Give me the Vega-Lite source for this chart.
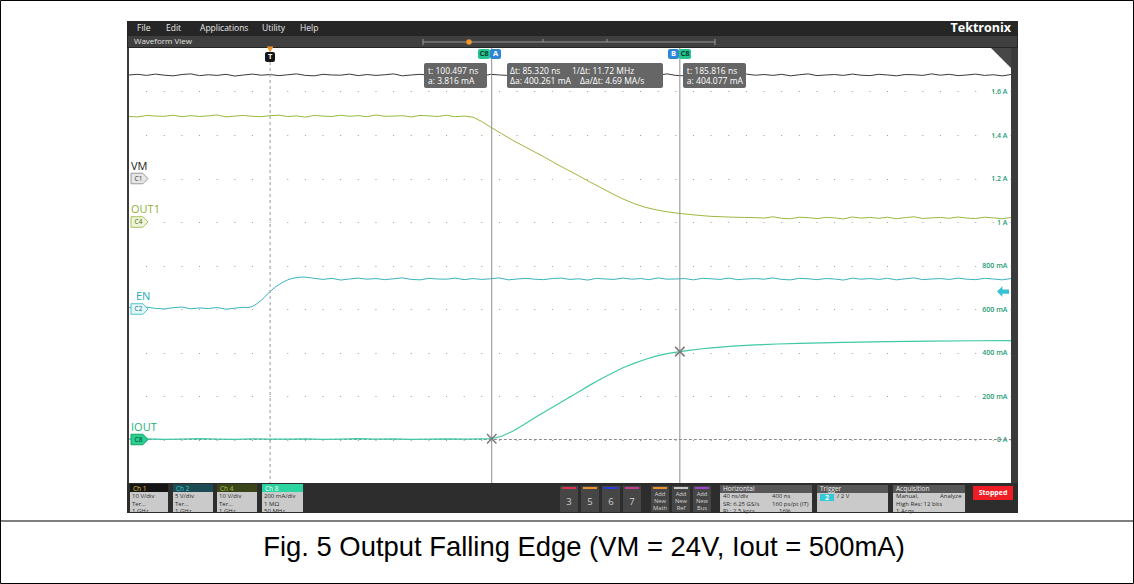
{
"$schema": "https://vega.github.io/schema/vega-lite/v6.json",
"width": 882, "height": 435,
"autosize": {"type": "none"},
"padding": {"left": 129, "top": 48, "right": 123, "bottom": 101},
"background": "#ffffff",
"config": {"view": {"stroke": null}, "font": "Open Sans", "axis": {"labelFont": "Open Sans"}},
"datasets": {
"zero": [{"t": 0, "v": 0, "a": 0}],
"trig": [{"t": 336, "v": 2, "a": 0}],
"tl": [{"t": 90.2, "v": 0, "a": 1.8276}],
"corner": [{"t": 336, "v": 0, "a": 1.8}],
"chrome": [
{"t":-64.91,"t2":339.18,"a":1.9241,"a2":1.8,"k":"menu"},
{"t":-64.45,"t2":338.72,"a":1.8552,"a2":1.8046,"k":"wv"},
{"t":-64.91,"t2":-64,"a":1.8,"a2":-0.2,"k":"edge"},
{"t":336,"t2":339.18,"a":1.8,"a2":-0.2,"k":"edge"},
{"t":-64.91,"t2":339.18,"a":-0.2,"a2":-0.3379,"k":"bar"},
{"t":-63.55,"t2":-46.31,"a":-0.2046,"a2":-0.2414,"k":"h1"},
{"t":-63.55,"t2":-46.31,"a":-0.2414,"a2":-0.3333,"k":"body"},
{"t":-44.05,"t2":-25.9,"a":-0.2046,"a2":-0.2414,"k":"h2"},
{"t":-44.05,"t2":-25.9,"a":-0.2414,"a2":-0.3333,"k":"body"},
{"t":-24.09,"t2":-5.95,"a":-0.2046,"a2":-0.2414,"k":"h4"},
{"t":-24.09,"t2":-5.95,"a":-0.2414,"a2":-0.3333,"k":"body"},
{"t":-3.68,"t2":14.91,"a":-0.2046,"a2":-0.2414,"k":"h8"},
{"t":-3.68,"t2":14.91,"a":-0.2414,"a2":-0.3333,"k":"body"},
{"t":131.46,"t2":139.62,"a":-0.2138,"a2":-0.3333,"k":"btn"},
{"t":140.99,"t2":149.15,"a":-0.2138,"a2":-0.3333,"k":"btn"},
{"t":150.51,"t2":158.68,"a":-0.2138,"a2":-0.3333,"k":"btn"},
{"t":160.04,"t2":168.2,"a":-0.2138,"a2":-0.3333,"k":"btn"},
{"t":172.74,"t2":180.9,"a":-0.2138,"a2":-0.3333,"k":"btn"},
{"t":182.27,"t2":190.43,"a":-0.2138,"a2":-0.3333,"k":"btn"},
{"t":191.79,"t2":199.95,"a":-0.2138,"a2":-0.3333,"k":"btn"},
{"t":132.37,"t2":138.71,"a":-0.2184,"a2":-0.2276,"k":"s3"},
{"t":141.9,"t2":148.25,"a":-0.2184,"a2":-0.2276,"k":"s5"},
{"t":151.42,"t2":157.77,"a":-0.2184,"a2":-0.2276,"k":"s6"},
{"t":160.95,"t2":167.3,"a":-0.2184,"a2":-0.2276,"k":"s7"},
{"t":173.64,"t2":179.99,"a":-0.2184,"a2":-0.2276,"k":"sM"},
{"t":183.17,"t2":189.52,"a":-0.2184,"a2":-0.2276,"k":"sR"},
{"t":192.69,"t2":199.04,"a":-0.2184,"a2":-0.2276,"k":"sB"},
{"t":204.04,"t2":245.76,"a":-0.2092,"a2":-0.246,"k":"hdr"},
{"t":248.03,"t2":280.23,"a":-0.2092,"a2":-0.246,"k":"hdr"},
{"t":282.49,"t2":315.15,"a":-0.2092,"a2":-0.246,"k":"hdr"},
{"t":204.04,"t2":245.76,"a":-0.246,"a2":-0.3333,"k":"body"},
{"t":248.03,"t2":280.23,"a":-0.246,"a2":-0.3333,"k":"body"},
{"t":282.49,"t2":315.15,"a":-0.246,"a2":-0.3333,"k":"body"},
{"t":318.78,"t2":336.91,"a":-0.2138,"a2":-0.2782,"k":"stop"},
{"t":249.39,"t2":255.74,"a":-0.2506,"a2":-0.2828,"k":"pill"}
],
"rules": [
{"t":69.33,"t2":201.76,"a":1.8276,"a2":1.8276},
{"t":69.33,"t2":69.33,"a":1.842,"a2":1.813},
{"t":201.76,"t2":201.76,"a":1.842,"a2":1.813},
{"t":123.76,"t2":123.76,"a":1.842,"a2":1.8276},
{"t":152.78,"t2":152.78,"a":1.842,"a2":1.8276}
],
"frame": [{"t":-122.28,"t2":391.56,"a":2.0184,"a2":-0.6621}],
"sep": [{"t":-122.5,"t2":391.8,"a":-0.3747}],
"ui": [
{"t":-60.37,"a":1.8897,"s":"File","g":"menu"},
{"t":-47.22,"a":1.8897,"s":"Edit","g":"menu"},
{"t":-31.8,"a":1.8897,"s":"Applications","g":"menu"},
{"t":-3.68,"a":1.8897,"s":"Utility","g":"menu"},
{"t":13.55,"a":1.8897,"s":"Help","g":"menu"},
{"t":336,"a":1.8897,"s":"Tektronix","g":"logo"},
{"t":-61.73,"a":1.8276,"s":"Waveform View","g":"wv"},
{"t":-62.19,"a":-0.2253,"s":"Ch 1","g":"h1"},
{"t":-42.68,"a":-0.2253,"s":"Ch 2","g":"h2"},
{"t":-22.73,"a":-0.2253,"s":"Ch 4","g":"h4"},
{"t":-2.32,"a":-0.2253,"s":"Ch 8","g":"h8"},
{"t":205.39,"a":-0.2276,"s":"Horizontal","g":"hw"},
{"t":249.38,"a":-0.2276,"s":"Trigger","g":"hw"},
{"t":283.85,"a":-0.2276,"s":"Acquisition","g":"hw"},
{"t":-62.64,"a":-0.2598,"s":"10 V/div","g":"body"},
{"t":-62.64,"a":-0.2943,"s":"Ter...","g":"body"},
{"t":-62.64,"a":-0.3287,"s":"1 GHz","g":"body"},
{"t":-43.14,"a":-0.2598,"s":"5 V/div","g":"body"},
{"t":-43.14,"a":-0.2943,"s":"Ter...","g":"body"},
{"t":-43.14,"a":-0.3287,"s":"1 GHz","g":"body"},
{"t":-23.18,"a":-0.2598,"s":"10 V/div","g":"body"},
{"t":-23.18,"a":-0.2943,"s":"Ter...","g":"body"},
{"t":-23.18,"a":-0.3287,"s":"1 GHz","g":"body"},
{"t":-2.78,"a":-0.2598,"s":"200 mA/div","g":"body"},
{"t":-2.78,"a":-0.2943,"s":"1 MΩ","g":"body"},
{"t":-2.78,"a":-0.3287,"s":"50 MHz","g":"body"},
{"t":205.39,"a":-0.2598,"s":"40 ns/div","g":"body"},
{"t":227.61,"a":-0.2598,"s":"400 ns","g":"body"},
{"t":205.39,"a":-0.2943,"s":"SR: 6.25 GS/s","g":"body"},
{"t":227.61,"a":-0.2943,"s":"160 ps/pt (IT)","g":"body"},
{"t":205.39,"a":-0.3287,"s":"RL: 2.5 kpts","g":"body"},
{"t":230.78,"a":-0.3287,"s":"16%","g":"body"},
{"t":257.09,"a":-0.2598,"s":"/  2 V","g":"body"},
{"t":283.85,"a":-0.2598,"s":"Manual,","g":"body"},
{"t":303.8,"a":-0.2598,"s":"Analyze","g":"body"},
{"t":283.85,"a":-0.2943,"s":"High Res: 12 bits","g":"body"},
{"t":283.85,"a":-0.3287,"s":"1 Acqs","g":"body"},
{"t":135.54,"a":-0.2874,"s":"3","g":"num"},
{"t":145.07,"a":-0.2874,"s":"5","g":"num"},
{"t":154.6,"a":-0.2874,"s":"6","g":"num"},
{"t":164.12,"a":-0.2874,"s":"7","g":"num"},
{"t":176.82,"a":-0.2483,"s":"Add","g":"add"},
{"t":176.82,"a":-0.2828,"s":"New","g":"add"},
{"t":176.82,"a":-0.3172,"s":"Math","g":"add"},
{"t":186.35,"a":-0.2483,"s":"Add","g":"add"},
{"t":186.35,"a":-0.2828,"s":"New","g":"add"},
{"t":186.35,"a":-0.3172,"s":"Ref","g":"add"},
{"t":195.87,"a":-0.2483,"s":"Add","g":"add"},
{"t":195.87,"a":-0.2828,"s":"New","g":"add"},
{"t":195.87,"a":-0.3172,"s":"Bus","g":"add"},
{"t":327.85,"a":-0.246,"s":"Stopped","g":"stop"},
{"t":252.57,"a":-0.2667,"s":"2","g":"pill"},
{"t":142.35,"a":-0.4989,"s":"Fig. 5 Output Falling Edge (VM = 24V, Iout = 500mA)","g":"cap"}
],
"vm": [
{"t":-64,"v":23.8},{"t":-60,"v":23.95},{"t":-56,"v":23.7},{"t":-52,"v":24.0},{"t":-48,"v":23.75},{"t":-44,"v":23.6},{"t":-40,"v":23.9},{"t":-36,"v":24.05},{"t":-32,"v":23.65},{"t":-28,"v":23.85},
{"t":-24,"v":23.7},{"t":-20,"v":23.95},{"t":-16,"v":23.55},{"t":-12,"v":23.8},{"t":-8,"v":24.0},{"t":-4,"v":23.75},{"t":0,"v":23.9},{"t":4,"v":23.65},{"t":8,"v":23.85},{"t":12,"v":24.05},
{"t":16,"v":23.7},{"t":20,"v":23.6},{"t":24,"v":23.95},{"t":28,"v":23.8},{"t":32,"v":23.75},{"t":36,"v":24.0},{"t":40,"v":23.65},{"t":44,"v":23.9},{"t":48,"v":23.7},{"t":52,"v":23.85},
{"t":56,"v":24.05},{"t":60,"v":23.6},{"t":64,"v":23.8},{"t":68,"v":23.95},{"t":72,"v":23.75},{"t":76,"v":23.65},{"t":80,"v":23.9},{"t":84,"v":24.0},{"t":88,"v":23.7},{"t":92,"v":23.85},
{"t":96,"v":23.55},{"t":100,"v":23.95},{"t":104,"v":23.8},{"t":108,"v":23.7},{"t":112,"v":24.0},{"t":116,"v":23.75},{"t":120,"v":23.9},{"t":124,"v":23.65},{"t":128,"v":24.05},{"t":132,"v":23.75},
{"t":136,"v":23.8},{"t":140,"v":23.9},{"t":144,"v":23.6},{"t":148,"v":23.95},{"t":152,"v":23.85},{"t":156,"v":23.7},{"t":160,"v":24.0},{"t":164,"v":23.65},{"t":168,"v":23.8},{"t":172,"v":23.9},
{"t":176,"v":23.75},{"t":180,"v":24.05},{"t":184,"v":23.7},{"t":188,"v":23.6},{"t":192,"v":23.95},{"t":196,"v":23.85},{"t":200,"v":23.65},{"t":204,"v":23.9},{"t":208,"v":23.8},{"t":212,"v":23.55},
{"t":216,"v":24.0},{"t":220,"v":23.75},{"t":224,"v":23.9},{"t":228,"v":23.7},{"t":232,"v":23.95},{"t":236,"v":23.6},{"t":240,"v":23.85},{"t":244,"v":24.05},{"t":248,"v":23.65},{"t":252,"v":23.8},
{"t":256,"v":23.9},{"t":260,"v":23.7},{"t":264,"v":24.0},{"t":268,"v":23.75},{"t":272,"v":23.65},{"t":276,"v":23.95},{"t":280,"v":23.8},{"t":284,"v":23.6},{"t":288,"v":23.9},{"t":292,"v":23.85},
{"t":296,"v":23.7},{"t":300,"v":24.05},{"t":304,"v":23.75},{"t":308,"v":23.95},{"t":312,"v":23.65},{"t":316,"v":23.8},{"t":320,"v":24.0},{"t":324,"v":23.7},{"t":328,"v":23.85},{"t":332,"v":23.6},{"t":336,"v":23.9}
],
"out1": [
{"t":-64,"v":24.25},{"t":-60,"v":24.15},{"t":-56,"v":24.5},{"t":-52,"v":24.35},{"t":-48,"v":24.3},{"t":-44,"v":24.55},{"t":-40,"v":24.2},{"t":-36,"v":24.45},{"t":-32,"v":24.25},{"t":-28,"v":24.4},
{"t":-24,"v":24.6},{"t":-20,"v":24.15},{"t":-16,"v":24.35},{"t":-12,"v":24.5},{"t":-8,"v":24.3},{"t":-4,"v":24.2},{"t":0,"v":24.45},{"t":4,"v":24.55},{"t":8,"v":24.25},{"t":12,"v":24.4},
{"t":16,"v":24.1},{"t":20,"v":24.5},{"t":24,"v":24.35},{"t":28,"v":24.25},{"t":32,"v":24.55},{"t":36,"v":24.3},{"t":40,"v":24.45},{"t":44,"v":24.2},{"t":48,"v":24.6},{"t":52,"v":24.3},
{"t":56,"v":24.35},{"t":60,"v":24.45},{"t":64,"v":24.15},{"t":68,"v":24.5},{"t":72,"v":24.4},{"t":76,"v":24.25},{"t":80,"v":24.55},{"t":84,"v":24.2},{"t":88,"v":24.35},
{"t":92,"v":24.1},{"t":96,"v":23.1},{"t":100,"v":21.8},{"t":105,"v":20.3},{"t":110,"v":18.8},{"t":115,"v":17.45},{"t":120,"v":16.1},{"t":125,"v":14.75},{"t":130,"v":13.3},{"t":135,"v":11.95},
{"t":140,"v":10.6},{"t":145,"v":9.2},{"t":150,"v":7.9},{"t":155,"v":6.55},{"t":160,"v":5.3},{"t":165,"v":4.25},{"t":170,"v":3.4},{"t":175,"v":2.8},{"t":180,"v":2.35},{"t":185,"v":2.0},
{"t":190,"v":1.75},{"t":195,"v":1.5},{"t":200,"v":1.3},{"t":205,"v":1.2},{"t":210,"v":1.1},{"t":215,"v":1.05},{"t":220,"v":1.0},
{"t":224,"v":0.9},{"t":228,"v":1.2},{"t":232,"v":0.85},{"t":236,"v":0.75},{"t":240,"v":1.1},{"t":244,"v":1.0},{"t":248,"v":0.8},{"t":252,"v":1.05},{"t":256,"v":0.95},{"t":260,"v":0.7},
{"t":264,"v":1.15},{"t":268,"v":0.9},{"t":272,"v":1.05},{"t":276,"v":0.85},{"t":280,"v":1.1},{"t":284,"v":0.75},{"t":288,"v":1.0},{"t":292,"v":1.2},{"t":296,"v":0.8},{"t":300,"v":0.95},
{"t":304,"v":1.05},{"t":308,"v":0.85},{"t":312,"v":1.15},{"t":316,"v":0.9},{"t":320,"v":0.8},{"t":324,"v":1.1},{"t":328,"v":0.95},{"t":332,"v":0.75},{"t":336,"v":1.05}
],
"en": [
{"t":-64,"v":0.175},{"t":-60,"v":0.05},{"t":-56,"v":0.2},{"t":-52,"v":0.075},{"t":-48,"v":0.0},{"t":-44,"v":0.15},{"t":-40,"v":0.225},{"t":-36,"v":0.025},{"t":-32,"v":0.125},{"t":-28,"v":0.05},
{"t":-24,"v":0.175},{"t":-20,"v":-0.025},{"t":-16,"v":0.1},{"t":-12,"v":0.2},
{"t":-10,"v":0.15},{"t":-8,"v":0.3},{"t":-6,"v":0.6},{"t":-4,"v":1.0},{"t":-2,"v":1.5},{"t":0,"v":2.0},{"t":2,"v":2.45},{"t":4,"v":2.8},{"t":6,"v":3.1},{"t":8,"v":3.35},
{"t":10,"v":3.52},{"t":12,"v":3.62},{"t":14,"v":3.67},{"t":16,"v":3.66},{"t":18,"v":3.6},{"t":20,"v":3.52},
{"t":24,"v":3.4},{"t":28,"v":3.525},{"t":32,"v":3.325},{"t":36,"v":3.45},{"t":40,"v":3.55},{"t":44,"v":3.425},{"t":48,"v":3.5},{"t":52,"v":3.375},{"t":56,"v":3.475},{"t":60,"v":3.575},
{"t":64,"v":3.4},{"t":68,"v":3.35},{"t":72,"v":3.525},{"t":76,"v":3.45},{"t":80,"v":3.425},{"t":84,"v":3.55},{"t":88,"v":3.375},{"t":92,"v":3.5},{"t":96,"v":3.4},{"t":100,"v":3.475},
{"t":104,"v":3.575},{"t":108,"v":3.35},{"t":112,"v":3.45},{"t":116,"v":3.525},{"t":120,"v":3.425},{"t":124,"v":3.375},{"t":128,"v":3.5},{"t":132,"v":3.55},{"t":136,"v":3.4},{"t":140,"v":3.475},
{"t":144,"v":3.325},{"t":148,"v":3.525},{"t":152,"v":3.45},{"t":156,"v":3.4},{"t":160,"v":3.55},{"t":164,"v":3.425},{"t":168,"v":3.5},{"t":172,"v":3.375},{"t":176,"v":3.575},{"t":180,"v":3.425},
{"t":184,"v":3.45},{"t":188,"v":3.5},{"t":192,"v":3.35},{"t":196,"v":3.525},{"t":200,"v":3.475},{"t":204,"v":3.4},{"t":208,"v":3.55},{"t":212,"v":3.375},{"t":216,"v":3.45},{"t":220,"v":3.5},
{"t":224,"v":3.425},{"t":228,"v":3.575},{"t":232,"v":3.4},{"t":236,"v":3.35},{"t":240,"v":3.525},{"t":244,"v":3.475},{"t":248,"v":3.375},{"t":252,"v":3.5},{"t":256,"v":3.45},{"t":260,"v":3.325},
{"t":264,"v":3.55},{"t":268,"v":3.425},{"t":272,"v":3.5},{"t":276,"v":3.4},{"t":280,"v":3.525},{"t":284,"v":3.35},{"t":288,"v":3.475},{"t":292,"v":3.575},{"t":296,"v":3.375},{"t":300,"v":3.45},
{"t":304,"v":3.5},{"t":308,"v":3.4},{"t":312,"v":3.55},{"t":316,"v":3.425},{"t":320,"v":3.375},{"t":324,"v":3.525},{"t":328,"v":3.45},{"t":332,"v":3.35},{"t":336,"v":3.5}
],
"iout": [
{"t":-64,"a":0.002},{"t":-56,"a":0.003},{"t":-48,"a":0.001},{"t":-40,"a":0.002},{"t":-32,"a":0.004},{"t":-24,"a":0.002},{"t":-16,"a":0.001},{"t":-8,"a":0.003},{"t":0,"a":0.002},{"t":8,"a":0.002},
{"t":16,"a":0.003},{"t":24,"a":0.001},{"t":32,"a":0.002},{"t":40,"a":0.004},{"t":48,"a":0.002},{"t":56,"a":0.003},{"t":64,"a":0.001},{"t":72,"a":0.002},{"t":80,"a":0.003},{"t":88,"a":0.002},
{"t":96,"a":0.003},{"t":100.497,"a":0.0038},{"t":105,"a":0.015},{"t":110,"a":0.038},{"t":115,"a":0.068},{"t":120,"a":0.1},{"t":125,"a":0.13},{"t":130,"a":0.16},{"t":135,"a":0.19},{"t":140,"a":0.22},
{"t":145,"a":0.25},{"t":150,"a":0.278},{"t":155,"a":0.305},{"t":160,"a":0.33},{"t":165,"a":0.35},{"t":170,"a":0.368},{"t":175,"a":0.383},{"t":180,"a":0.395},{"t":185.816,"a":0.4041},{"t":190,"a":0.41},
{"t":195,"a":0.416},{"t":200,"a":0.421},{"t":210,"a":0.429},{"t":220,"a":0.435},{"t":230,"a":0.439},{"t":240,"a":0.442},{"t":260,"a":0.447},{"t":280,"a":0.45},{"t":300,"a":0.452},{"t":320,"a":0.454},{"t":336,"a":0.455}
],
"cur": [{"t":100.497,"a":0.003816},{"t":185.816,"a":0.404077}],
"ovr": [
{"t":69.79,"t2":98.36,"a":1.731,"a2":1.6161,"k":"ro"},
{"t":107.43,"t2":178.18,"a":1.731,"a2":1.6161,"k":"ro"},
{"t":187.25,"t2":215.82,"a":1.731,"a2":1.6161,"k":"ro"},
{"t":94.28,"t2":99.72,"a":1.7954,"a2":1.7494,"k":"c8"},
{"t":99.72,"t2":104.71,"a":1.7954,"a2":1.7494,"k":"cur"},
{"t":180.44,"t2":185.43,"a":1.7954,"a2":1.7494,"k":"cur"},
{"t":185.43,"t2":190.88,"a":1.7954,"a2":1.7494,"k":"c8"},
{"t":-2.32,"t2":2.21,"a":1.7816,"a2":1.7356,"k":"tbox"}
],
"otx": [
{"t":71.6,"a":1.6943,"s":"t: 100.497 ns","g":"ro"},
{"t":71.6,"a":1.6483,"s":"a: 3.816 mA","g":"ro"},
{"t":108.79,"a":1.6943,"s":"Δt: 85.320 ns","g":"ro"},
{"t":136.91,"a":1.6943,"s":"1/Δt: 11.72 MHz","g":"ro"},
{"t":108.79,"a":1.6483,"s":"Δa: 400.261 mA","g":"ro"},
{"t":140.54,"a":1.6483,"s":"Δa/Δt: 4.69 MA/s","g":"ro"},
{"t":189.0,"a":1.6943,"s":"t: 185.816 ns","g":"ro"},
{"t":189.0,"a":1.6483,"s":"a: 404.077 mA","g":"ro"},
{"t":97.0,"a":1.7724,"s":"C8","g":"td"},
{"t":102.21,"a":1.7724,"s":"A","g":"tw"},
{"t":182.94,"a":1.7724,"s":"B","g":"tw"},
{"t":188.15,"a":1.7724,"s":"C8","g":"td"},
{"t":0,"a":1.7586,"s":"T","g":"tw"}
]
},
"resolve": {"scale": {"y": "independent", "fill": "independent", "color": "independent"}},
"layer": [
{
"encoding": {
"x": {"field": "t", "type": "quantitative", "scale": {"domain": [-64, 336], "nice": false, "zero": false},
"axis": {"values": [-40, 0, 40, 80, 120, 160, 200, 240, 280, 320], "labelExpr": "datum.value == 0 ? '0 s' : datum.value + ' ns'", "title": null, "domain": false, "ticks": false, "tickSize": 0, "labelPadding": -6, "labelBaseline": "middle", "labelFontSize": 6.5, "labelColor": "#3a3a3a", "grid": true, "gridColor": "#9c9c9c", "gridDash": [1, 7.7], "gridWidth": 1}},
"y": {"field": "a", "type": "quantitative", "scale": {"domain": [-0.2, 1.8], "nice": false, "zero": false},
"axis": {"orient": "right", "values": [0, 0.2, 0.4, 0.6, 0.8, 1, 1.2, 1.4, 1.6], "labelExpr": "datum.value == 0 ? '0 A' : datum.value < 0.99 ? format(datum.value * 1000, 'd') + ' mA' : format(datum.value, '~g') + ' A'", "title": null, "domain": false, "ticks": false, "tickSize": 0, "labelAlign": "right", "labelPadding": -4, "labelBaseline": "middle", "labelFontSize": 7, "labelFontWeight": 600, "labelColor": "#1d9c74", "grid": true, "gridColor": "#9c9c9c", "gridDash": [1, 16.64], "gridWidth": 1}}
},
"layer": [
{"data": {"name": "chrome"}, "mark": {"type": "rect"},
"encoding": {"x2": {"field": "t2"}, "y2": {"field": "a2"},
"fill": {"field": "k", "type": "nominal", "legend": null, "scale": {
"domain": ["menu","wv","edge","bar","h1","h2","h4","h8","body","btn","s3","s5","s6","s7","sM","sR","sB","hdr","stop","pill"],
"range": ["#262626","#3f3f3f","#3a3a3a","#2d2d2d","#151515","#1c4b52","#3a4519","#2bd4a0","#cacaca","#464646","#d8344f","#e8922c","#2b3fd6","#c23d8d","#e8922c","#c8c8c8","#9b45c8","#575757","#f01d25","#35c8d8"]}}}},
{"data": {"name": "rules"}, "mark": {"type": "rule", "color": "#9a9a9a", "strokeWidth": 1},
"encoding": {"x2": {"field": "t2"}, "y2": {"field": "a2"}}},
{"data": {"name": "frame"}, "mark": {"type": "rect", "filled": false, "stroke": "#000000", "strokeWidth": 1},
"encoding": {"x2": {"field": "t2"}, "y2": {"field": "a2"}}},
{"data": {"name": "sep"}, "mark": {"type": "rule", "color": "#000000", "strokeWidth": 1.2},
"encoding": {"x2": {"field": "t2"}}},
{"data": {"name": "ui"}, "transform": [{"filter": "datum.g == 'menu'"}],
"mark": {"type": "text", "align": "left", "baseline": "middle", "fontSize": 8.5, "color": "#e6e6e6"},
"encoding": {"text": {"field": "s"}}},
{"data": {"name": "ui"}, "transform": [{"filter": "datum.g == 'logo'"}],
"mark": {"type": "text", "align": "right", "baseline": "middle", "fontSize": 12.5, "fontWeight": "bold", "color": "#ffffff"},
"encoding": {"text": {"field": "s"}}},
{"data": {"name": "ui"}, "transform": [{"filter": "datum.g == 'wv'"}],
"mark": {"type": "text", "align": "left", "baseline": "middle", "fontSize": 8, "color": "#e0e0e0"},
"encoding": {"text": {"field": "s"}}},
{"data": {"name": "ui"}, "transform": [{"filter": "indexof(['h1','h2','h4','h8','hw'], datum.g) >= 0"}],
"mark": {"type": "text", "align": "left", "baseline": "middle", "fontSize": 6.5},
"encoding": {"text": {"field": "s"}, "color": {"field": "g", "type": "nominal", "legend": null, "scale": {"domain": ["h1","h2","h4","h8","hw"], "range": ["#e6c52e","#3ecbd3","#a9c94c","#ffffff","#f0f0f0"]}}}},
{"data": {"name": "ui"}, "transform": [{"filter": "datum.g == 'body'"}],
"mark": {"type": "text", "align": "left", "baseline": "middle", "fontSize": 6, "color": "#2b2b2b"},
"encoding": {"text": {"field": "s"}}},
{"data": {"name": "ui"}, "transform": [{"filter": "datum.g == 'num'"}],
"mark": {"type": "text", "align": "center", "baseline": "middle", "fontSize": 9.5, "color": "#cfcfcf"},
"encoding": {"text": {"field": "s"}}},
{"data": {"name": "ui"}, "transform": [{"filter": "datum.g == 'add'"}],
"mark": {"type": "text", "align": "center", "baseline": "middle", "fontSize": 5.8, "color": "#d4d4d4"},
"encoding": {"text": {"field": "s"}}},
{"data": {"name": "ui"}, "transform": [{"filter": "datum.g == 'stop' || datum.g == 'pill'"}],
"mark": {"type": "text", "align": "center", "baseline": "middle", "fontSize": 7, "fontWeight": "bold", "color": "#ffffff"},
"encoding": {"text": {"field": "s"}}},
{"data": {"name": "ui"}, "transform": [{"filter": "datum.g == 'cap'"}],
"mark": {"type": "text", "align": "center", "baseline": "middle", "fontSize": 27.4, "font": "Liberation Sans", "color": "#000000"},
"encoding": {"text": {"field": "s"}}}
]
},
{
"encoding": {
"x": {"field": "t", "type": "quantitative", "scale": {"domain": [-64, 336], "nice": false, "zero": false}, "axis": null},
"y": {"field": "v", "type": "quantitative", "scale": {"domain": [-70, 30], "nice": false, "zero": false}, "axis": null}
},
"layer": [
{"data": {"name": "vm"}, "mark": {"type": "line", "color": "#3a3a3a", "strokeWidth": 1}, "encoding": {}},
{"data": {"name": "zero"}, "mark": {"type": "point", "shape": "M-1,-0.62L0.4,-0.62L1,0L0.4,0.62L-1,0.62Z", "size": 289, "filled": true, "fill": "#e6e6e6", "stroke": "#9a9a9a", "strokeWidth": 1, "opacity": 1, "xOffset": 10.5},
"encoding": {"x": {"datum": -64, "type": "quantitative"}}},
{"data": {"name": "zero"}, "mark": {"type": "text", "text": "C1", "fontSize": 6.5, "color": "#333333", "align": "center", "baseline": "middle", "dx": 9.5},
"encoding": {"x": {"datum": -64, "type": "quantitative"}}},
{"data": {"name": "zero"}, "mark": {"type": "text", "text": "VM", "fontSize": 11, "color": "#1a1a1a", "align": "left", "baseline": "middle", "dx": 2, "dy": -12},
"encoding": {"x": {"datum": -64, "type": "quantitative"}}}
]
},
{
"encoding": {
"x": {"field": "t", "type": "quantitative", "scale": {"domain": [-64, 336], "nice": false, "zero": false}, "axis": null},
"y": {"field": "v", "type": "quantitative", "scale": {"domain": [-60, 40], "nice": false, "zero": false}, "axis": null}
},
"layer": [
{"data": {"name": "out1"}, "mark": {"type": "line", "color": "#9bb83b", "strokeWidth": 1}, "encoding": {}},
{"data": {"name": "zero"}, "mark": {"type": "point", "shape": "M-1,-0.62L0.4,-0.62L1,0L0.4,0.62L-1,0.62Z", "size": 289, "filled": true, "fill": "#eff5da", "stroke": "#a6c15a", "strokeWidth": 1, "opacity": 1, "xOffset": 10.5},
"encoding": {"x": {"datum": -64, "type": "quantitative"}}},
{"data": {"name": "zero"}, "mark": {"type": "text", "text": "C4", "fontSize": 6.5, "color": "#4b5e17", "align": "center", "baseline": "middle", "dx": 9.5},
"encoding": {"x": {"datum": -64, "type": "quantitative"}}},
{"data": {"name": "zero"}, "mark": {"type": "text", "text": "OUT1", "fontSize": 11, "color": "#8db33a", "align": "left", "baseline": "middle", "dx": 2, "dy": -12},
"encoding": {"x": {"datum": -64, "type": "quantitative"}}}
]
},
{
"encoding": {
"x": {"field": "t", "type": "quantitative", "scale": {"domain": [-64, 336], "nice": false, "zero": false}, "axis": null},
"y": {"field": "v", "type": "quantitative", "scale": {"domain": [-20, 30], "nice": false, "zero": false}, "axis": null}
},
"layer": [
{"data": {"name": "en"}, "mark": {"type": "line", "color": "#3ab3bf", "strokeWidth": 1}, "encoding": {}},
{"data": {"name": "zero"}, "mark": {"type": "point", "shape": "M-1,-0.62L0.4,-0.62L1,0L0.4,0.62L-1,0.62Z", "size": 289, "filled": true, "fill": "#e3f7f9", "stroke": "#4fc3ce", "strokeWidth": 1, "opacity": 1, "xOffset": 10.5},
"encoding": {"x": {"datum": -64, "type": "quantitative"}}},
{"data": {"name": "zero"}, "mark": {"type": "text", "text": "C2", "fontSize": 6.5, "color": "#1a6e78", "align": "center", "baseline": "middle", "dx": 9.5},
"encoding": {"x": {"datum": -64, "type": "quantitative"}}},
{"data": {"name": "zero"}, "mark": {"type": "text", "text": "EN", "fontSize": 11, "color": "#2aa7b6", "align": "left", "baseline": "middle", "dx": 7, "dy": -12},
"encoding": {"x": {"datum": -64, "type": "quantitative"}}},
{"data": {"name": "trig"}, "mark": {"type": "point", "shape": "M-1,0L-0.1,-0.9L-0.1,-0.35L1,-0.35L1,0.35L-0.1,0.35L-0.1,0.9Z", "size": 144, "filled": true, "fill": "#36c2d2", "opacity": 1, "xOffset": -8}}
]
},
{
"encoding": {
"x": {"field": "t", "type": "quantitative", "scale": {"domain": [-64, 336], "nice": false, "zero": false}, "axis": null},
"y": {"field": "a", "type": "quantitative", "scale": {"domain": [-0.2, 1.8], "nice": false, "zero": false}, "axis": null}
},
"layer": [
{"data": {"name": "cur"}, "mark": {"type": "rule", "color": "#8d8d8d", "strokeWidth": 1},
"encoding": {"y": {"datum": 1.8, "type": "quantitative"}, "y2": {"datum": -0.2}}},
{"data": {"name": "zero"}, "mark": {"type": "rule", "color": "#9a9a9a", "strokeWidth": 1, "strokeDash": [3, 3]},
"encoding": {"y": {"datum": 1.7356, "type": "quantitative"}, "y2": {"datum": -0.2}}},
{"data": {"name": "zero"}, "mark": {"type": "rule", "color": "#8a8a8a", "strokeWidth": 1, "strokeDash": [3, 2]},
"encoding": {"x": {"datum": -55, "type": "quantitative"}, "x2": {"datum": 336}}},
{"data": {"name": "iout"}, "mark": {"type": "line", "color": "#3fc9a6", "strokeWidth": 1.2}, "encoding": {}},
{"data": {"name": "cur"}, "mark": {"type": "point", "shape": "M-1,-1L1,1M-1,1L1,-1", "size": 90, "filled": false, "stroke": "#7a7a7a", "strokeWidth": 1.5, "opacity": 1}},
{"data": {"name": "ovr"}, "mark": {"type": "rect", "cornerRadius": 2},
"encoding": {"x2": {"field": "t2"}, "y2": {"field": "a2"},
"fill": {"field": "k", "type": "nominal", "legend": null, "scale": {"domain": ["ro","c8","cur","tbox"], "range": ["#666666","#23c690","#2f86d6","#161616"]}}}},
{"data": {"name": "otx"}, "transform": [{"filter": "datum.g == 'ro'"}],
"mark": {"type": "text", "align": "left", "baseline": "middle", "fontSize": 8.5, "color": "#ffffff"},
"encoding": {"text": {"field": "s"}}},
{"data": {"name": "otx"}, "transform": [{"filter": "datum.g != 'ro'"}],
"mark": {"type": "text", "align": "center", "baseline": "middle", "fontSize": 7.5, "fontWeight": "bold"},
"encoding": {"text": {"field": "s"}, "color": {"field": "g", "type": "nominal", "legend": null, "scale": {"domain": ["td","tw"], "range": ["#0b3a2b","#ffffff"]}}}},
{"data": {"name": "zero"}, "mark": {"type": "point", "shape": "M-1,-0.62L0.4,-0.62L1,0L0.4,0.62L-1,0.62Z", "size": 289, "filled": true, "fill": "#27cf90", "stroke": "#17a06a", "strokeWidth": 1, "opacity": 1, "xOffset": 10.5},
"encoding": {"x": {"datum": -64, "type": "quantitative"}}},
{"data": {"name": "zero"}, "mark": {"type": "text", "text": "C8", "fontSize": 6.5, "color": "#0b3a2b", "align": "center", "baseline": "middle", "dx": 9.5},
"encoding": {"x": {"datum": -64, "type": "quantitative"}}},
{"data": {"name": "zero"}, "mark": {"type": "text", "text": "IOUT", "fontSize": 11, "color": "#22b07c", "align": "left", "baseline": "middle", "dx": 2, "dy": -12},
"encoding": {"x": {"datum": -64, "type": "quantitative"}}},
{"data": {"name": "zero"}, "mark": {"type": "point", "shape": "triangle-down", "size": 45, "filled": true, "fill": "#f0962a", "opacity": 1, "yOffset": 1.5},
"encoding": {"y": {"datum": 1.8, "type": "quantitative"}}},
{"data": {"name": "tl"}, "mark": {"type": "point", "shape": "circle", "size": 30, "filled": true, "fill": "#f0962a", "opacity": 1}},
{"data": {"name": "corner"}, "mark": {"type": "point", "shape": "M-1,-1L1,-1L1,1Z", "size": 400, "filled": true, "fill": "#474747", "opacity": 1, "xOffset": -10, "yOffset": 10}}
]
}
]
}
